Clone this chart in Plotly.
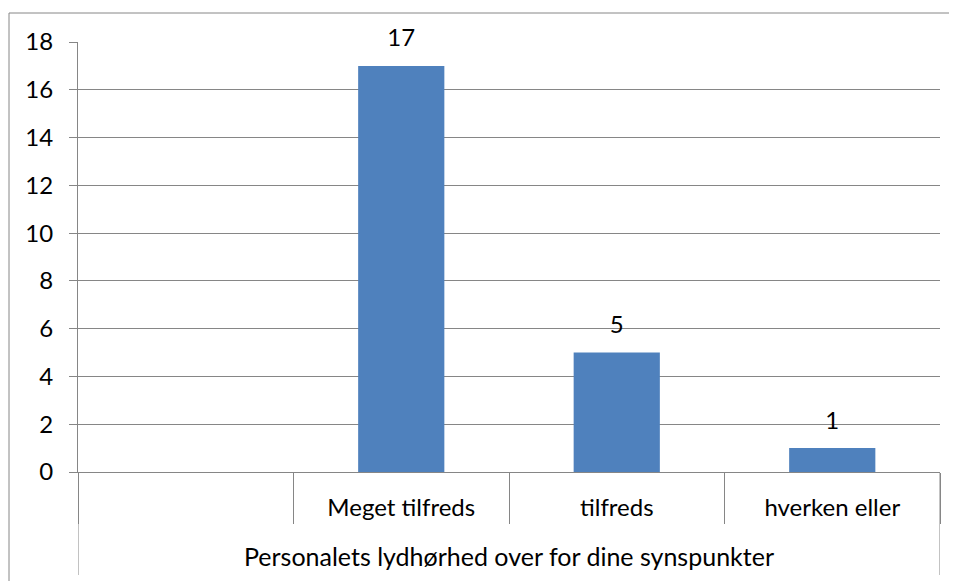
import plotly.graph_objects as go

group_label = "Personalets lydhørhed over for dine synspunkter"
categories = [" ", "Meget tilfreds", "tilfreds", "hverken eller"]
values = [None, 17, 5, 1]
value_labels = ["", "17", "5", "1"]
y_ticks = [0, 2, 4, 6, 8, 10, 12, 14, 16, 18]

GRID = "#868686"
BAR = "#4F81BD"
FONT = "Lato"
FS = 24

W, H = 957, 581
PAGE_OFF = 8  # default body margin of the html page
L, T = 78 - PAGE_OFF, 42 - PAGE_OFF
pw, ph = 862, 430
R, B = W - L - pw, H - T - ph

fig = go.Figure()
fig.add_trace(go.Bar(
    x=categories, y=values, width=0.4, marker=dict(color=BAR, line=dict(width=0)),
    showlegend=False, hoverinfo="skip",
))
fig.add_trace(go.Scatter(
    x=categories, y=values, mode="markers+text", text=value_labels,
    textposition="top center", marker=dict(size=20, opacity=0),
    textfont=dict(family=FONT, size=FS, color="black"),
    showlegend=False, hoverinfo="skip", cliponaxis=False,
))

# outer dividers of the category group (at the first and last category boundary)
for xb in (-0.5, len(categories) - 0.5):
    fig.add_shape(type="line", xref="x", yref="paper", x0=xb, x1=xb,
                  y0=0, y1=-(575 - 472) / ph,
                  line=dict(color=GRID, width=1))

# chart border (cut at right/bottom like the reference)
fig.add_shape(type="rect", xref="paper", yref="paper",
              x0=(9 - 78) / pw, x1=(W + 20 - 78) / pw,
              y0=(472 - (H + 20)) / ph, y1=(472 - 13) / ph,
              line=dict(color=GRID, width=1), layer="below")

fig.update_layout(
    width=W, height=H, margin=dict(l=L, r=R, t=T, b=B),
    paper_bgcolor="white", plot_bgcolor="white",
    font=dict(family=FONT, size=FS, color="black"),
    bargap=0.6,
)
fig.update_xaxes(
    type="category", range=[-0.5, len(categories) - 0.5], automargin=False,
    showline=True, linecolor=GRID, linewidth=1,
    ticks="outside", tickson="boundaries", ticklen=51, tickcolor=GRID, tickwidth=1,
    ticklabelstandoff=14,
    showgrid=False, tickfont=dict(family=FONT, size=FS, color="black"),
    title=dict(text=group_label, font=dict(family=FONT, size=25, color="black"), standoff=28),
)
fig.update_yaxes(
    range=[0, 18], tickvals=y_ticks, automargin=False,
    showgrid=True, gridcolor=GRID, gridwidth=1,
    showline=True, linecolor=GRID, linewidth=1, ticks="outside", ticklen=8,
    tickcolor=GRID, zeroline=False, ticklabelstandoff=11,
    tickfont=dict(family=FONT, size=FS, color="black"),
)
fig.write_html("out.html")
